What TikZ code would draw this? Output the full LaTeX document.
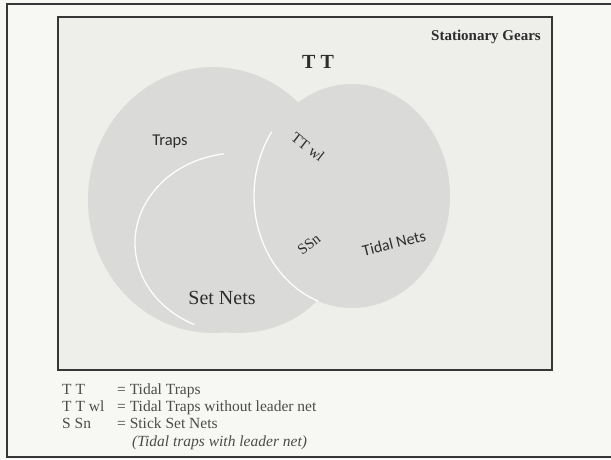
\documentclass[tikz,border=0pt]{standalone}
\usepackage{fontspec}
\setmainfont{Liberation Serif}
\newfontfamily\carlito{Carlito}
\definecolor{paper}{RGB}{247,247,243}
\definecolor{panel}{RGB}{238,238,235}
\definecolor{disc}{RGB}{218,218,217}
\definecolor{rule}{RGB}{55,55,55}
\definecolor{ink}{RGB}{45,45,45}

\begin{document}
\begin{tikzpicture}[x=1pt, y=-1pt, font=\fontsize{15.5}{17}\selectfont,
	lbl/.style={inner sep=0pt, text=ink},
	key/.style={lbl, anchor=base west, text=ink!85}]
	
	% 1. Page size and frames
	\useasboundingbox (0,0) rectangle (611,459);
	\clip (0,0) rectangle (611,459);
	\fill[paper] (0,0) rectangle (611,459);
	\draw[rule, line width=1.6pt] (7,4) rectangle (625,457);
	\draw[rule, line width=1.3pt, fill=panel] (58,17) rectangle (552,370);
	
	% 2. The three sets
	\def\rwhite{1.3pt}
	\fill[disc] (213,200) ellipse [x radius=125, y radius=133];
	
	\fill[disc] (238,243) ellipse [x radius=103, y radius=90];
	\draw[white!95!disc, line width=\rwhite] (238,243) ++(115:103 and 90)
	arc[start angle=115, end angle=262, x radius=103, y radius=90];
	
	\fill[disc] (352,196) ellipse [x radius=98, y radius=112];
	\draw[white!95!disc, line width=\rwhite] (352,196) ++(110:98 and 112)
	arc[start angle=110, end angle=215, x radius=98, y radius=112];
	
	% 3. Labels
	\node[lbl, font=\fontsize{15}{17}\selectfont\bfseries] (gears) at (486,37) {Stationary Gears};
	\node[lbl, font=\fontsize{20}{22}\selectfont\bfseries] (tt) at (318,62) {T T};
	\node[lbl, font=\carlito\fontsize{16.5}{18}\selectfont] (traps) at (170,142) {Traps};
	\node[lbl, rotate=-38, font=\fontsize{15}{17}\selectfont] (ttwl) at (308,147) {TT wl};
	\node[lbl, rotate=38, font=\fontsize{15}{17}\selectfont] (ssn) at (309,244) {SSn};
	\node[lbl, rotate=14, font=\carlito\fontsize{16}{18}\selectfont] (tidal) at (394,243) {Tidal Nets};
	\node[lbl, font=\fontsize{20}{22}\selectfont] (setnets) at (222,298) {Set Nets};
	
	% 4. Legend
	\node[key] (ktt)   at (62,394) {T T};
	\node[key] (ktwl)  at (62,411) {T T wl};
	\node[key] (kssn)  at (62,428) {S Sn};
	\node[key] (vtt)   at (117,394) {= Tidal Traps};
	\node[key] (vtwl)  at (117,411) {= Tidal Traps without leader net};
	\node[key] (vssn)  at (117,428) {= Stick Set Nets};
	\node[key, font=\fontsize{15.5}{17}\selectfont\itshape] (vnote) at (132,446) {(Tidal traps with leader net)};
	
\end{tikzpicture}
\end{document}
